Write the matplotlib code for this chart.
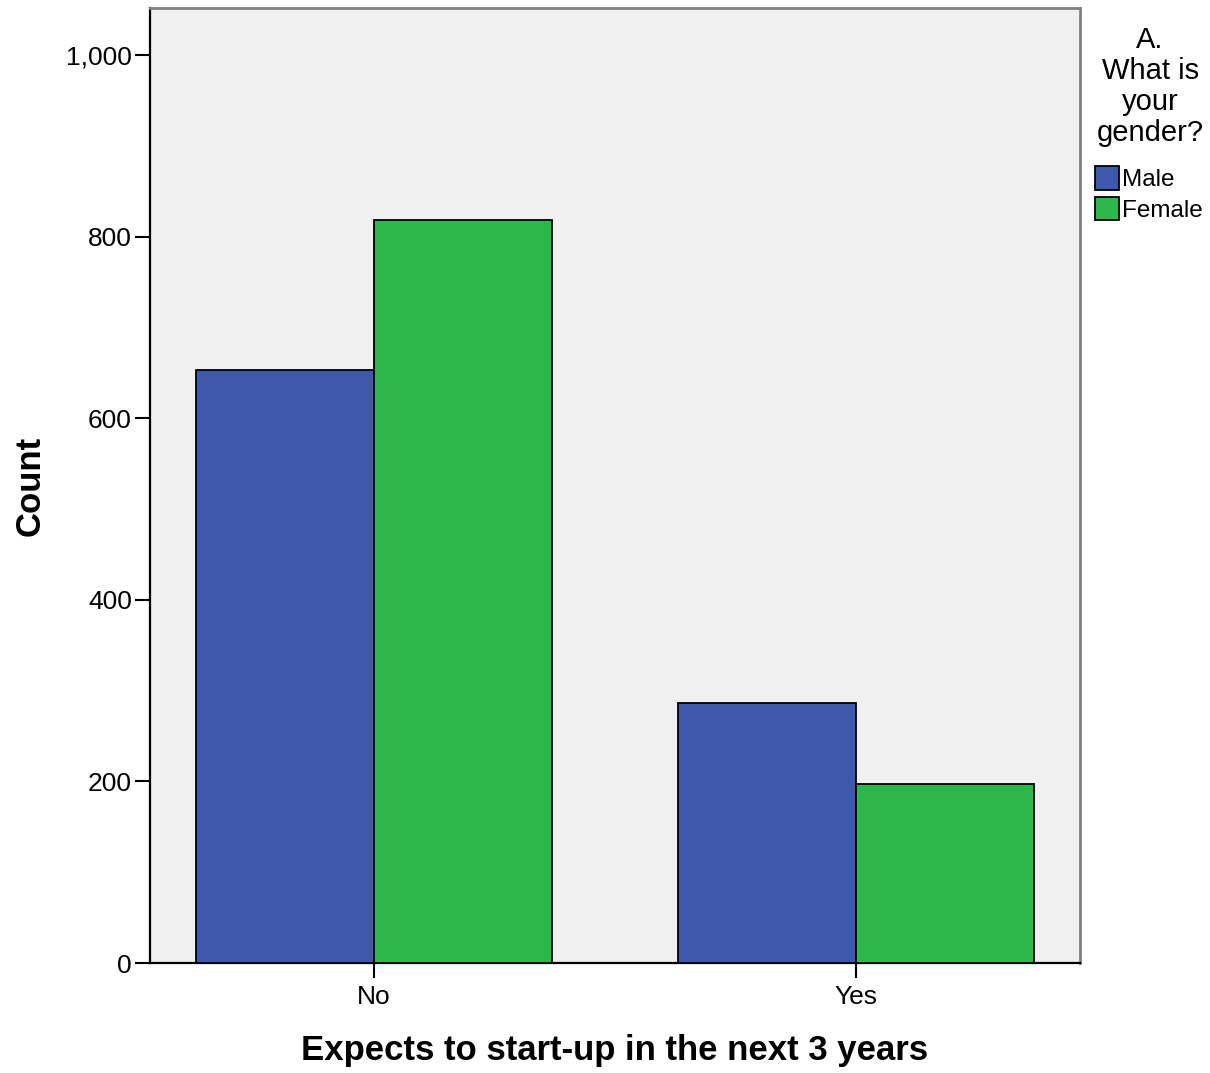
import numpy as np
import matplotlib.pyplot as plt
from matplotlib.ticker import FuncFormatter

plt.rcParams['font.family'] = ['Liberation Sans', 'DejaVu Sans']

# data
categories = ['No', 'Yes']
genders = ['Male', 'Female']
male_counts = [653, 286]
female_counts = [819, 197]
colors = ['#3e58ac', '#2eb84b']

fig = plt.figure(figsize=(12.1, 10.73), dpi=100)
ax = fig.add_axes([0.124, 0.1025, 0.7686, 0.89])
ax.set_facecolor('#f0f0f0')

x = np.arange(len(categories))
width = 0.369
for i, (vals, col) in enumerate(zip([male_counts, female_counts], colors)):
    offset = (i - 0.5) * width
    ax.bar(x + offset, vals, width, color=col, edgecolor='black',
           linewidth=1.3, label=genders[i], zorder=3)

ax.set_xlim(-0.465, 1.465)
ax.set_ylim(0, 1052)
ax.set_yticks([0, 200, 400, 600, 800, 1000])
ax.yaxis.set_major_formatter(FuncFormatter(lambda v, p: f'{int(v):,}'))
ax.set_xticks(x)
ax.set_xticklabels(categories)
ax.tick_params(axis='both', length=11, width=1.5, labelsize=19, pad=2)
ax.tick_params(axis='x', pad=5)

for side in ['left', 'bottom']:
    ax.spines[side].set_color('black')
    ax.spines[side].set_linewidth(1.6)
for side in ['top', 'right']:
    ax.spines[side].set_color('#808080')
    ax.spines[side].set_linewidth(2)

ax.set_ylabel('Count', fontsize=25, fontweight='bold', labelpad=14)
ax.set_xlabel('Expects to start-up in the next 3 years', fontsize=25,
              fontweight='bold', labelpad=18)

# legend title drawn separately so the gap to the entries matches
fig.text(0.9505, (1073 - 26) / 1073, 'A.\nWhat is\nyour\ngender?',
         ha='center', va='top', fontsize=21, linespacing=1.14,
         multialignment='center')

leg = fig.legend(loc='upper left', bbox_to_anchor=(1093 / 1210, (1073 - 164) / 1073),
                 frameon=False, fontsize=17.5, handlelength=0.95,
                 handleheight=1.1, handletextpad=0.15, labelspacing=0.22,
                 borderpad=0.1, borderaxespad=0)

fig.savefig('out.png', dpi=100)
